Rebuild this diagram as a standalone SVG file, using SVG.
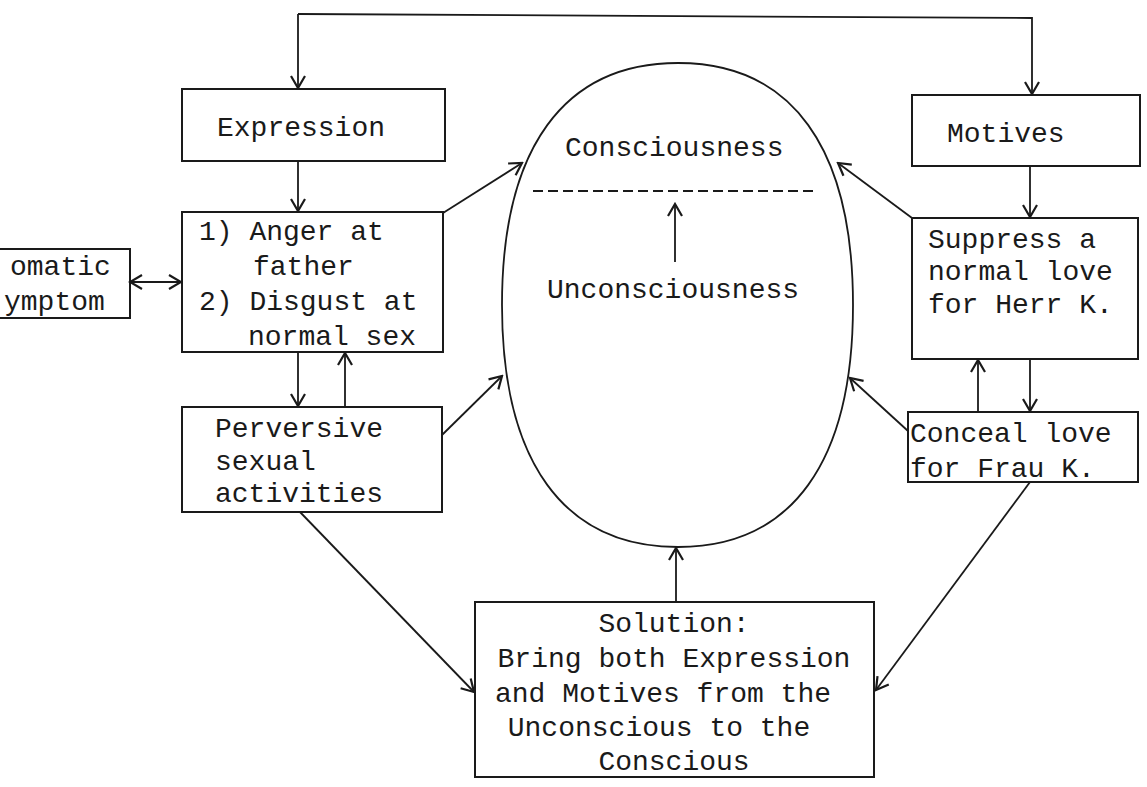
<svg xmlns="http://www.w3.org/2000/svg" width="1147" height="787" viewBox="0 0 1147 787">
<style>
.box{fill:#fff;stroke:#1a1a1a;stroke-width:2}
.t{font-family:"Liberation Mono","Courier New",monospace;font-size:28px;fill:#1a1a1a}
.c{fill:none;stroke:#1a1a1a;stroke-width:1.8}
.ell{fill:none;stroke:#1a1a1a;stroke-width:1.8}
</style>
<defs>
<marker id="ah" viewBox="-14 -9 16 18" refX="0" refY="0" markerWidth="16" markerHeight="18" markerUnits="userSpaceOnUse" orient="auto-start-reverse">
<path d="M-12,-7 L0,0 L-12,7" fill="none" stroke="#1a1a1a" stroke-width="2.2"/>
</marker>
</defs>
<rect width="1147" height="787" fill="#fff"/>

<g id="mind">
<path class="ell" d="M678,63 C792,63 853,148 853,305 C853,462 792,547 678,547 C564,547 502,462 502,305 C502,148 564,63 678,63 Z"/>
<line x1="533" y1="191" x2="818" y2="191" stroke="#1a1a1a" stroke-width="2" stroke-dasharray="10,5"/>
<text class="t" x="565" y="156">Consciousness</text>
<text class="t" x="547" y="298">Unconsciousness</text>
</g>

<g id="expression">
<rect class="box" x="182" y="89" width="263" height="72"/>
<text class="t" x="217" y="136">Expression</text>
</g>

<g id="anger">
<rect class="box" x="182" y="212" width="261" height="140"/>
<text class="t" x="199" y="240">1) Anger at</text>
<text class="t" x="253" y="275">father</text>
<text class="t" x="199" y="310">2) Disgust at</text>
<text class="t" x="248" y="345">normal sex</text>
</g>

<g id="somatic">
<rect class="box" x="-2" y="249" width="132" height="69"/>
<text class="t" x="10" y="275">omatic</text>
<text class="t" x="4" y="310">ymptom</text>
</g>

<g id="perversive">
<rect class="box" x="182" y="407" width="260" height="105"/>
<text class="t" x="215" y="437">Perversive</text>
<text class="t" x="215" y="470">sexual</text>
<text class="t" x="215" y="502">activities</text>
</g>

<g id="motives">
<rect class="box" x="912" y="95" width="228" height="71"/>
<text class="t" x="947" y="142">Motives</text>
</g>

<g id="suppress">
<rect class="box" x="912" y="218" width="226" height="141"/>
<text class="t" x="928" y="248">Suppress a</text>
<text class="t" x="928" y="280">normal love</text>
<text class="t" x="928" y="313">for Herr K.</text>
</g>

<g id="conceal">
<rect class="box" x="908" y="412" width="230" height="70"/>
<text class="t" x="910" y="442">Conceal love</text>
<text class="t" x="910" y="477">for Frau K.</text>
</g>

<g id="solution">
<rect class="box" x="475" y="602" width="399" height="175"/>
<text class="t" x="674" y="632" text-anchor="middle">Solution:</text>
<text class="t" x="674" y="667" text-anchor="middle">Bring both Expression</text>
<text class="t" x="663" y="702" text-anchor="middle">and Motives from the</text>
<text class="t" x="659" y="736" text-anchor="middle">Unconscious to the</text>
<text class="t" x="674" y="770" text-anchor="middle">Conscious</text>
</g>

<g id="connectors">
<polyline class="c" points="298,14 1032,18 1032,94" marker-end="url(#ah)"/>
<line class="c" x1="298" y1="14" x2="298" y2="88" marker-end="url(#ah)"/>
<line class="c" x1="298" y1="161" x2="298" y2="211" marker-end="url(#ah)"/>
<line class="c" x1="130" y1="282" x2="181" y2="282" marker-start="url(#ah)" marker-end="url(#ah)"/>
<line class="c" x1="298" y1="352" x2="298" y2="406" marker-end="url(#ah)"/>
<line class="c" x1="345" y1="407" x2="345" y2="353" marker-end="url(#ah)"/>
<line class="c" x1="443" y1="213" x2="522" y2="163" marker-end="url(#ah)"/>
<line class="c" x1="442" y1="435" x2="502" y2="376" marker-end="url(#ah)"/>
<line class="c" x1="1030" y1="166" x2="1030" y2="217" marker-end="url(#ah)"/>
<line class="c" x1="912" y1="218" x2="838" y2="163" marker-end="url(#ah)"/>
<line class="c" x1="908" y1="431" x2="850" y2="378" marker-end="url(#ah)"/>
<line class="c" x1="1030" y1="359" x2="1030" y2="411" marker-end="url(#ah)"/>
<line class="c" x1="978" y1="412" x2="978" y2="360" marker-end="url(#ah)"/>
<line class="c" x1="675" y1="262" x2="675" y2="204" marker-end="url(#ah)"/>
<line class="c" x1="676" y1="602" x2="676" y2="548" marker-end="url(#ah)"/>
<line class="c" x1="300" y1="512" x2="474" y2="692" marker-end="url(#ah)"/>
<line class="c" x1="1030" y1="482" x2="876" y2="690" marker-end="url(#ah)"/>
</g>
</svg>
